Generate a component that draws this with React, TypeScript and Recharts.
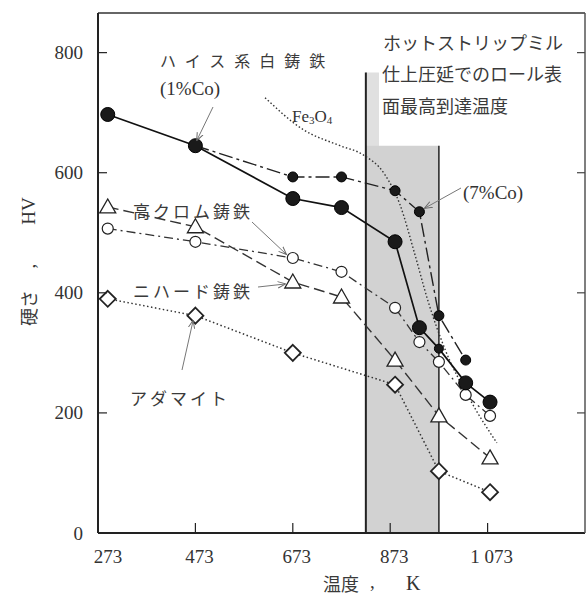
import { LineChart, Line, XAxis, YAxis, ReferenceArea, ReferenceLine } from "recharts";

// axis ticks
const xTicks = [273, 473, 673, 873, 1073];
const xTickLabels = ["273", "473", "673", "873", "1 073"];
const yTicks = [0, 200, 400, 600, 800];
const rightTicks = [200, 400, 600, 800];

// ハイス系白鋳鉄 (1%Co)
const hss1Temp = [293, 473, 673, 773, 883, 933, 973, 1028, 1078];
const hss1Hv = [697, 645, 557, 542, 485, 342, 307, 250, 218];
// ハイス系白鋳鉄 (7%Co)
const hss7Temp = [473, 673, 773, 883, 933, 973, 1028];
const hss7Hv = [645, 593, 593, 570, 535, 362, 288];
// 高クロム鋳鉄
const hiCrTemp = [293, 473, 673, 773, 883, 933, 973, 1028, 1078];
const hiCrHv = [507, 485, 458, 435, 375, 318, 285, 230, 195];
// ニハード鋳鉄
const nihardTemp = [293, 473, 673, 773, 883, 973, 1078];
const nihardHv = [543, 510, 418, 393, 288, 195, 125];
// アダマイト
const adamiteTemp = [293, 473, 673, 883, 973, 1078];
const adamiteHv = [390, 362, 300, 247, 103, 68];
// Fe3O4
const fe3o4Temp = [616, 694, 770, 817, 862, 893, 924, 950, 986, 1037, 1092];
const fe3o4Hv = [725, 672, 645, 630, 597, 547, 463, 388, 305, 222, 150];

// roll surface max temperature band
const bandStart = 823;
const bandEnd = 973;
const bandTop = 645;
const stripEnd = 850;
const stripTop = 767;

const X_MIN = 273;
const X_MAX = 1273;
const Y_MAX = 866;

const rows = (t: number[], h: number[]) => t.map((k, i) => ({ k, hv: h[i] }));

const serif = '"Liberation Serif", "Times New Roman", serif';
const jp = '"Noto Sans CJK JP", sans-serif';
const ink = "#222";

const LeftTick = ({ x, y, payload }: any) => (
  <g>
    {payload.value !== 0 && <line x1={x} x2={x + 9} y1={y} y2={y} stroke={ink} strokeWidth={1.2} />}
    <text x={x - 15} y={y} textAnchor="end" dominantBaseline="central" fontFamily={serif} fontSize={19} fill="#333">
      {payload.value}
    </text>
  </g>
);

const RightTick = ({ x, y }: any) => (
  <line x1={x} x2={x - 8} y1={y} y2={y} stroke="#444" strokeWidth={1.2} />
);

const BottomTick = ({ x, y, payload, index }: any) => (
  <g>
    {index > 0 && <line x1={x} x2={x} y1={y} y2={y - 10} stroke={ink} strokeWidth={1.2} />}
    <text x={index === 0 ? x + 10 : x + 4} y={y + 23} textAnchor="middle" dominantBaseline="central" fontFamily={serif} fontSize={19} fill="#333">
      {xTickLabels[xTicks.indexOf(payload.value)]}
    </text>
  </g>
);

const BigDot = ({ cx, cy, index }: any) => (
  <circle key={`b${index}`} cx={cx} cy={cy} r={index === 6 ? 4.5 : 7} fill="#1a1a1a" stroke="#000" strokeWidth={1} />
);
const SmallDot = ({ cx, cy, index }: any) =>
  index === 0 ? <g key={`s${index}`} /> : <circle key={`s${index}`} cx={cx} cy={cy} r={5} fill="#1a1a1a" stroke="#000" strokeWidth={1} />;
const OpenDot = ({ cx, cy, index }: any) => (
  <circle key={`o${index}`} cx={cx} cy={cy} r={5.5} fill="#fff" stroke={ink} strokeWidth={1.2} />
);
const TriDot = ({ cx, cy, index }: any) => (
  <path key={`t${index}`} d={`M${cx},${cy - 8} L${cx + 8},${cy + 6} L${cx - 8},${cy + 6} Z`} fill="#fff" stroke={ink} strokeWidth={1.3} />
);
const DiamondDot = ({ cx, cy, index }: any) => (
  <path key={`d${index}`} d={`M${cx},${cy - 8} L${cx + 8},${cy} L${cx},${cy + 8} L${cx - 8},${cy} Z`} fill="#fff" stroke={ink} strokeWidth={1.8} />
);

const Arrow = ({ x1, y1, x2, y2 }: any) => (
  <line x1={x1} y1={y1} x2={x2} y2={y2} stroke="#777" strokeWidth={1} markerEnd="url(#arr)" />
);

export default function App() {
  return (
    <div style={{ position: "absolute", left: 0, top: 0, width: 587, height: 599, background: "#fff" }}>
      <LineChart width={587} height={599} margin={{ top: 13, right: 1, bottom: 26, left: 38 }}>
        <XAxis
          dataKey="k"
          type="number"
          domain={[X_MIN, X_MAX]}
          ticks={xTicks}
          allowDataOverflow
          height={40}
          tickSize={0}
          tickMargin={0}
          tickLine={false}
          axisLine={{ stroke: ink, strokeWidth: 2 }}
          tick={<BottomTick />}
        />
        <YAxis
          type="number"
          domain={[0, Y_MAX]}
          ticks={yTicks}
          allowDataOverflow
          width={60}
          tickSize={0}
          tickMargin={0}
          tickLine={false}
          axisLine={{ stroke: ink, strokeWidth: 2 }}
          tick={<LeftTick />}
        />
        <YAxis
          yAxisId="r"
          orientation="right"
          type="number"
          domain={[0, Y_MAX]}
          ticks={rightTicks}
          allowDataOverflow
          width={1}
          tickSize={0}
          tickMargin={0}
          tickLine={false}
          axisLine={{ stroke: "#555", strokeWidth: 1.5 }}
          tick={<RightTick />}
        />
        <ReferenceLine y={Y_MAX} stroke="#333" strokeWidth={1.5} />
        <ReferenceArea x1={bandStart} x2={stripEnd} y1={0} y2={stripTop} fill="#e0e0e0" fillOpacity={1} stroke="none" />
        <ReferenceArea x1={bandStart} x2={bandEnd} y1={0} y2={bandTop} fill="#d2d2d2" fillOpacity={1} stroke="none" />
        <ReferenceLine segment={[{ x: bandStart, y: 0 }, { x: bandStart, y: stripTop }]} stroke={ink} strokeWidth={2} />
        <ReferenceLine segment={[{ x: bandEnd, y: 0 }, { x: bandEnd, y: bandTop }]} stroke={ink} strokeWidth={1.5} />

        <Line data={rows(fe3o4Temp, fe3o4Hv)} dataKey="hv" type="monotone" stroke="#333" strokeWidth={1.4} strokeDasharray="1.5 2.2" dot={false} isAnimationActive={false} />
        <Line data={rows(adamiteTemp, adamiteHv)} dataKey="hv" type="linear" stroke="#333" strokeWidth={1.5} strokeDasharray="1.5 2.5" dot={<DiamondDot />} isAnimationActive={false} />
        <Line data={rows(nihardTemp, nihardHv)} dataKey="hv" type="linear" stroke="#333" strokeWidth={1.4} strokeDasharray="11 5" dot={<TriDot />} isAnimationActive={false} />
        <Line data={rows(hiCrTemp, hiCrHv)} dataKey="hv" type="linear" stroke="#333" strokeWidth={1.3} strokeDasharray="9 4 2 4" dot={<OpenDot />} isAnimationActive={false} />
        <Line data={rows(hss7Temp, hss7Hv)} dataKey="hv" type="linear" stroke="#222" strokeWidth={1.4} strokeDasharray="14 4 3 4" dot={<SmallDot />} isAnimationActive={false} />
        <Line data={rows(hss1Temp, hss1Hv)} dataKey="hv" type="linear" stroke="#111" strokeWidth={1.7} dot={<BigDot />} isAnimationActive={false} />
      </LineChart>

      <svg width={587} height={599} style={{ position: "absolute", left: 0, top: 0, pointerEvents: "none" }}>
        <defs>
          <marker id="arr" viewBox="0 0 10 10" refX="9" refY="5" markerWidth="8" markerHeight="8" orient="auto-start-reverse">
            <path d="M0,1 L10,5 L0,9" fill="none" stroke="#666" strokeWidth={1.2} />
          </marker>
        </defs>
        <g fontFamily={jp} fontSize={17} fill="#3a3a3a" dominantBaseline="central">
          <text x={160} y={60} fontSize={16} letterSpacing={9}>ハイス系白鋳鉄</text>
          <text x={383} y={42} fontSize={18}>ホットストリップミル</text>
          <text x={382} y={73} fontSize={18}>仕上圧延でのロール表</text>
          <text x={382} y={105} fontSize={18}>面最高到達温度</text>
          <text x={133} y={210} letterSpacing={3}>高クロム鋳鉄</text>
          <text x={133} y={290} letterSpacing={3}>ニハード鋳鉄</text>
          <text x={130} y={397} letterSpacing={3}>アダマイト</text>
          <text x={323} y={583} fontSize={18}>温度</text>
          <text transform="translate(28,308) rotate(-90)" textAnchor="middle" fontSize={18}>硬さ</text>
        </g>
        <g fontFamily={serif} fontSize={19} fill="#333" dominantBaseline="central">
          <text x={160} y={88}>(1%Co)</text>
          <text x={463} y={192}>(7%Co)</text>
          <text x={292} y={116} fontSize={17}>
            Fe<tspan fontSize={11} dy={4}>3</tspan>
            <tspan dy={-4}>O</tspan>
            <tspan fontSize={11} dy={4}>4</tspan>
          </text>
          <text x={370} y={581}>,</text>
          <text x={406} y={583} fontSize={20}>K</text>
          <text transform="translate(28,266) rotate(-90)" textAnchor="middle">,</text>
          <text transform="translate(28,211) rotate(-90)" textAnchor="middle" fontSize={19}>HV</text>
        </g>
        <Arrow x1={213} y1={107} x2={197} y2={140} />
        <Arrow x1={461} y1={188} x2={425} y2={208} />
        <Arrow x1={252} y1={222} x2={286} y2={254} />
        <Arrow x1={258} y1={287} x2={285} y2={284} />
        <Arrow x1={182} y1={370} x2={193} y2={321} />
      </svg>
    </div>
  );
}
